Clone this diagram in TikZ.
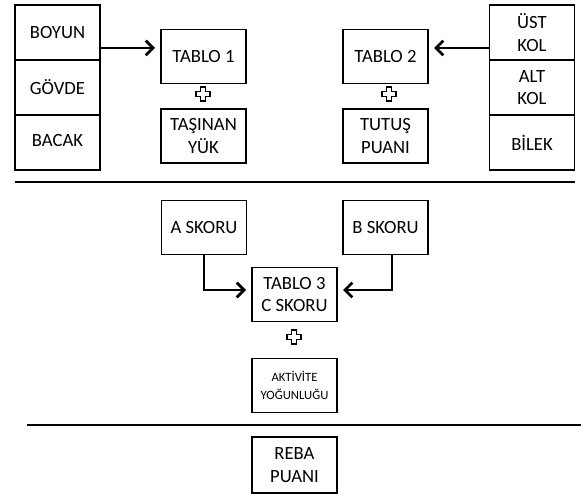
\documentclass[tikz,border=0pt]{standalone}
\usepackage{fontspec}
\setmainfont{Carlito}
\usetikzlibrary{arrows.meta,calc}
\begin{document}
\begin{tikzpicture}[x=0.75pt,y=-0.75pt,
  cell/.style={draw, line width=1.4pt, minimum width=63.75pt, minimum height=41.25pt, inner sep=0pt, outer sep=0pt, align=center, font=\fontsize{14}{17}\selectfont},
  box/.style={draw, line width=1.4pt, minimum width=63.75pt, minimum height=40.5pt, inner sep=0pt, outer sep=0pt, align=center, font=\fontsize{14}{17}\selectfont},
  smallbox/.style={box, font=\fontsize{9.5}{13}\selectfont},
  arr/.style={line width=2.1pt, -{Straight Barb[length=5.5pt,width=11pt]}, shorten >=4.5pt},
  sep/.style={line width=2pt},
  plus/.style={draw, line width=1.3pt, fill=white}
]
\useasboundingbox (0,0) rectangle (581,495);
% left stack
\node[cell] (boyun) at (57.5,32.5) {BOYUN};
\node[cell] (govde) at (57.5,87.5) {GÖVDE};
\node[cell] (bacak) at (57.5,142.5) {\raisebox{3pt}{BACAK}};
% right stack
\node[cell] (ust) at (532,32.5) {ÜST\\KOL};
\node[cell] (alt) at (532,87.5) {ALT\\KOL};
\node[cell] (bilek) at (532,142.5) {BİLEK};
% tables
\node[box] (t1) at (203.5,56.5) {TABLO 1};
\node[box] (ty) at (203.5,136) {TAŞINAN\\YÜK};
\node[box] (t2) at (385.5,56.5) {TABLO 2};
\node[box] (tp) at (385.5,136) {TUTUŞ\\PUANI};
% arrows top
\coordinate (la) at (100,48);
\coordinate (ra) at (489,48);
\draw[arr] (la) -- (la -| t1.west);
\draw[arr] (ra) -- (ra -| t2.east);
% plus signs
\foreach \n/\cx/\cy in {p1/203/94, p2/389/94, p3/294/337}{
  \draw[plus] (\cx-2.5,\cy-7) -- (\cx+2.5,\cy-7) -- (\cx+2.5,\cy-2.5) -- (\cx+7,\cy-2.5) -- (\cx+7,\cy+2.5) -- (\cx+2.5,\cy+2.5) -- (\cx+2.5,\cy+7) -- (\cx-2.5,\cy+7) -- (\cx-2.5,\cy+2.5) -- (\cx-7,\cy+2.5) -- (\cx-7,\cy-2.5) -- (\cx-2.5,\cy-2.5) -- cycle;
}
% separators
\coordinate (s1a) at (15,182);
\coordinate (s1b) at (575,182);
\coordinate (s2a) at (27,425);
\coordinate (s2b) at (581,425);
\draw[sep] (s1a) -- (s1b);
\draw[sep] (s2a) -- (s2b);
% middle
\node[box] (a) at (204,227.5) {A SKORU};
\node[box] (b) at (385.5,227.5) {B SKORU};
\node[box] (t3) at (294.5,294.5) {TABLO 3\\C SKORU};
\coordinate (t3l) at (252,290);
\coordinate (t3r) at (337,290);
\coordinate (bs) at (392,255);
\draw[arr] (a.south) |- (t3l);
\draw[arr] (bs) |- (t3r);
\node[smallbox] (ak) at (294.5,385.5) {AKTİVİTE\\YOĞUNLUĞU};
\node[box, minimum height=42pt] (reba) at (294.5,465) {REBA\\PUANI};
\end{tikzpicture}
\end{document}
